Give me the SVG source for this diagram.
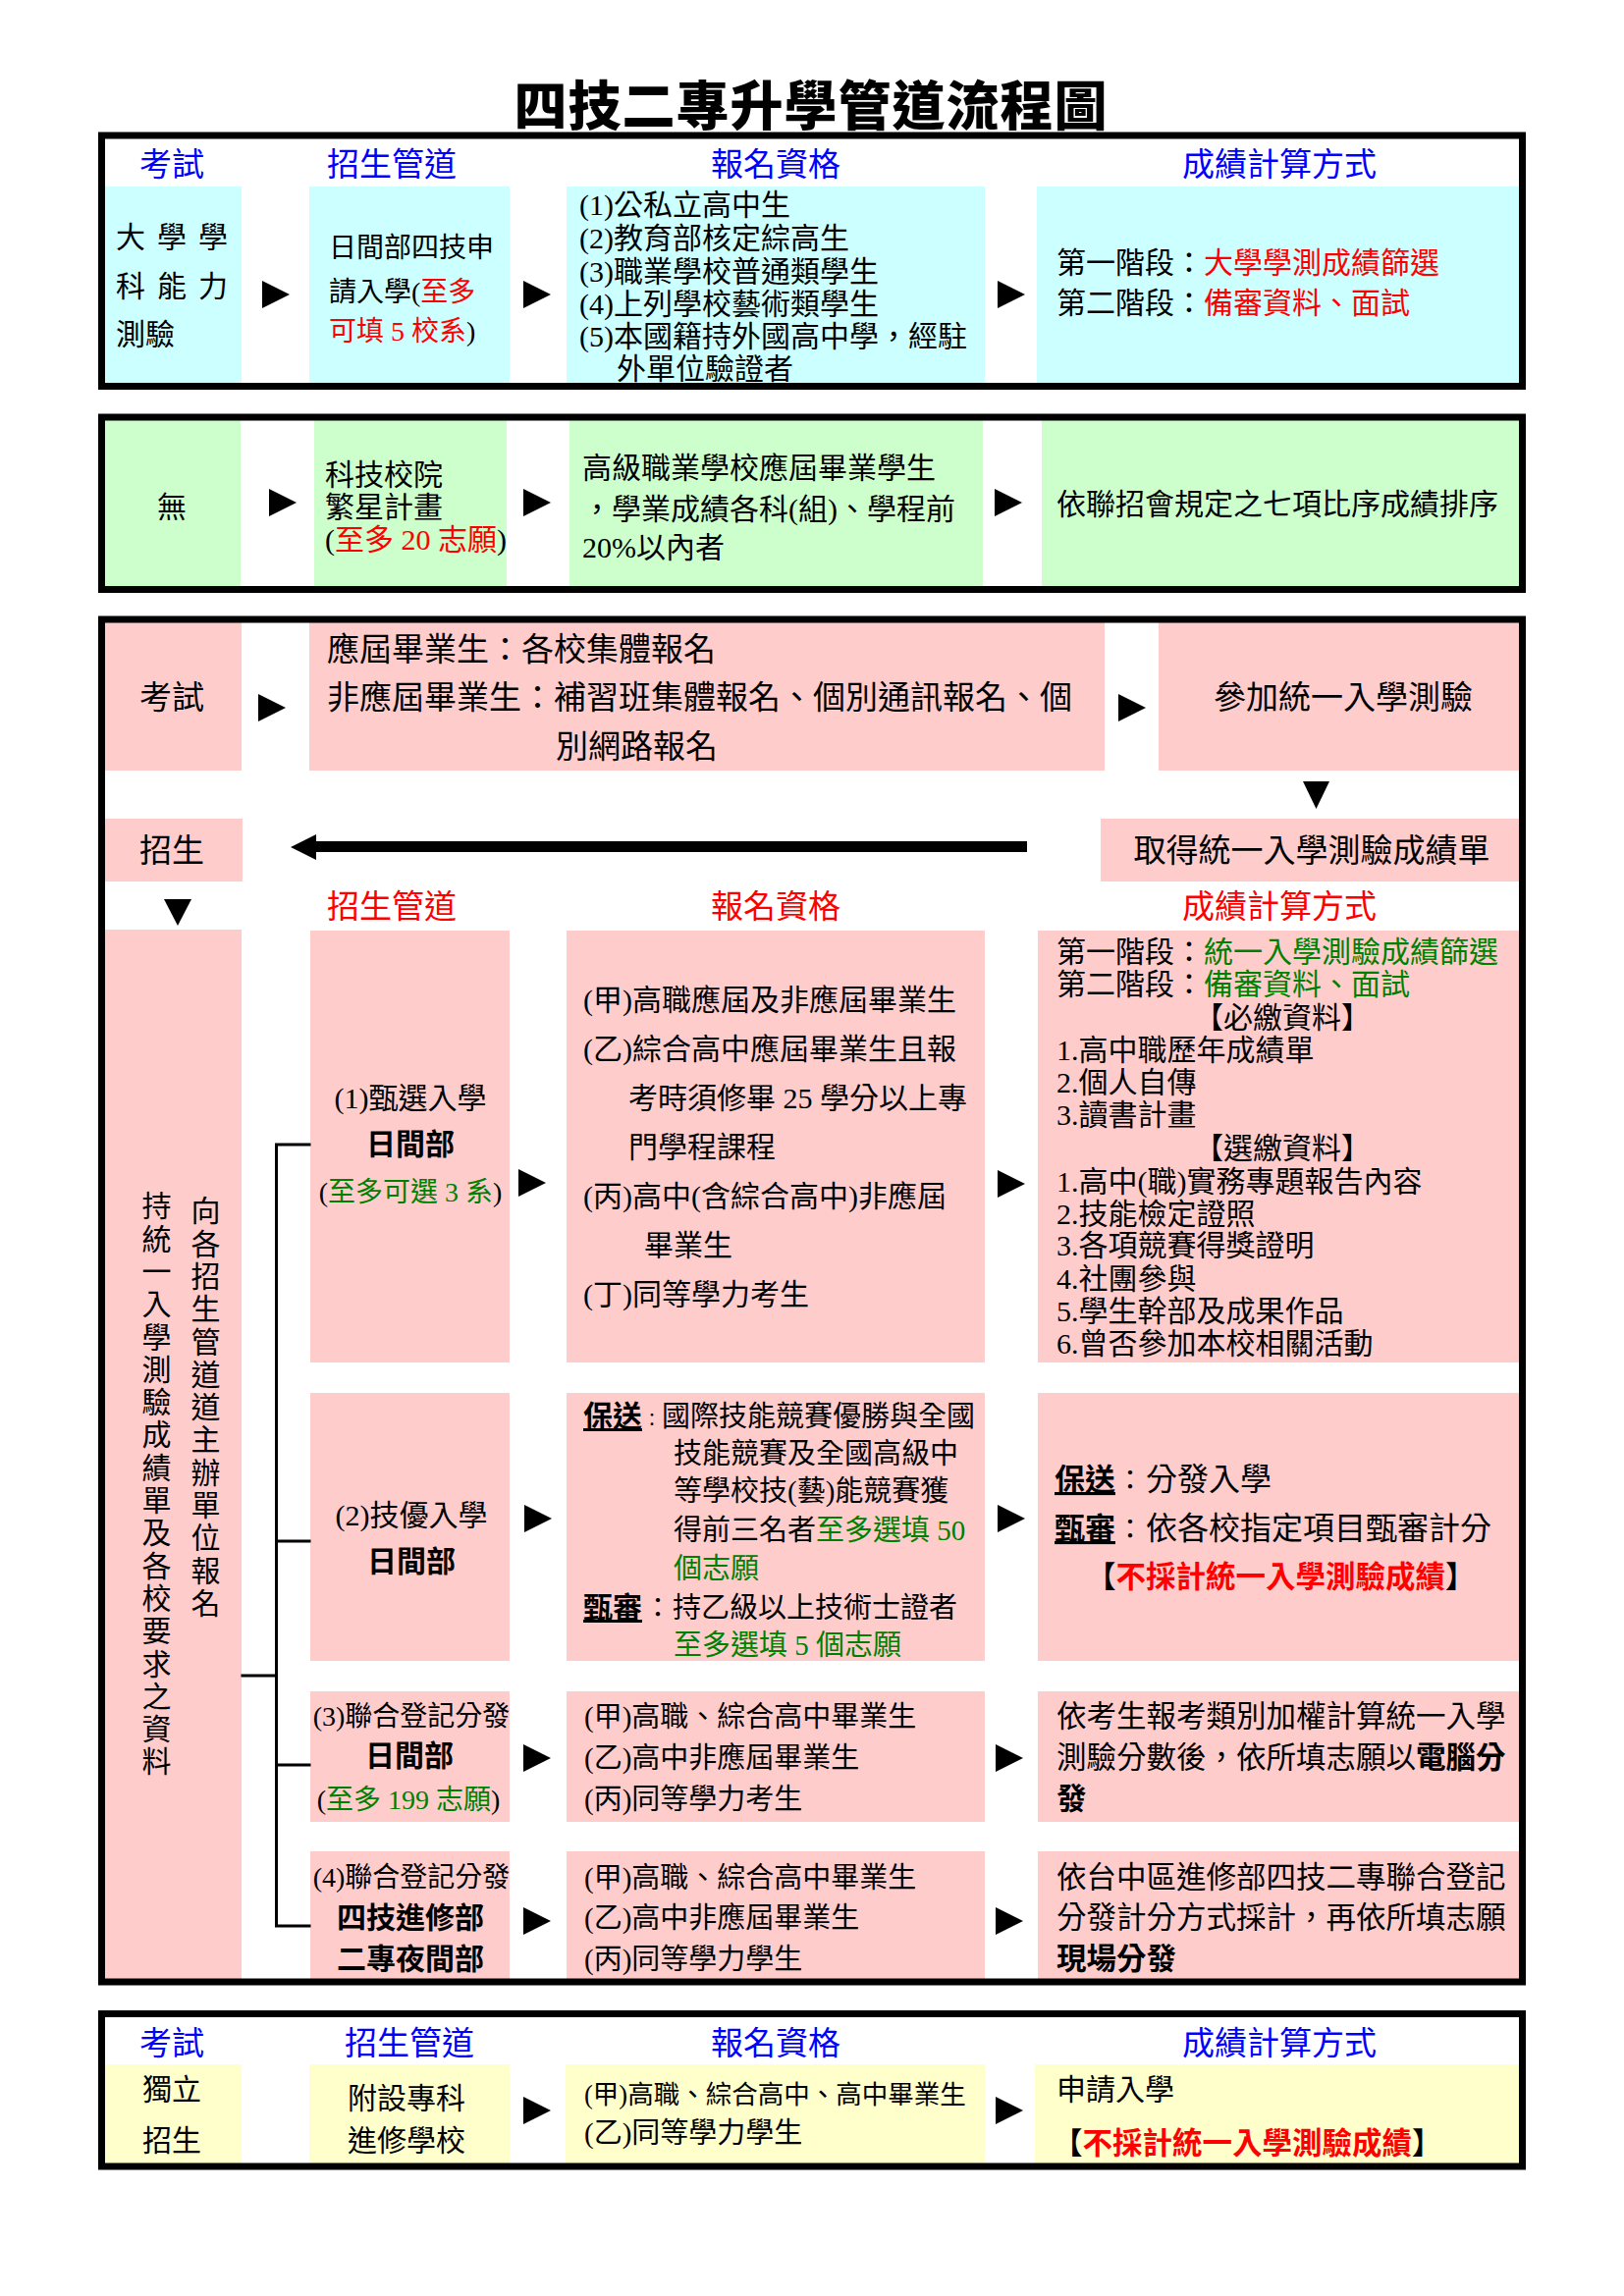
<svg xmlns="http://www.w3.org/2000/svg" width="1654" height="2339" viewBox="0 0 1654 2339">
<style>
text{font-family:"Liberation Serif","Noto Sans CJK TC",serif;font-size:30px;fill:#000}
.b{font-weight:bold}
.r{fill:#f00}
.g{fill:#008000}
.k{fill:#000}
.blu{fill:#00f;font-size:33px;text-anchor:middle}
.rh{fill:#f00;font-size:33px;text-anchor:middle}
.f33{font-size:33px}
.f28{font-size:28px}
.f29{font-size:29px}
.m{text-anchor:middle}
.u{text-decoration:underline}
.cy{fill:#cff}.gr{fill:#cfc}.pk{fill:#fcc}.yl{fill:#ffc}
.frame{fill:none;stroke:#000;stroke-width:7}
.ln{fill:none;stroke:#000;stroke-width:3;stroke-linecap:square}
.vt{writing-mode:vertical-rl;letter-spacing:3.3px}
</style>
<defs>
<path id="ar" d="M0,-14L28,0L0,14Z"/>
</defs>
<rect x="0" y="0" width="1654" height="2339" fill="#fff"/>

<g id="title">
<text x="826" y="128" class="m b" style="font-size:54px;letter-spacing:1px;font-weight:900">四技二專升學管道流程圖</text>
</g>

<!-- Section 1 -->
<g id="s1">
<g id="s1-exam"><rect class="cy" x="107" y="190" width="139" height="200"/>
<text x="118" y="252" style="letter-spacing:12px">大學學</text>
<text x="118" y="302" style="letter-spacing:12px">科能力</text>
<text x="118" y="351">測驗</text></g>
<g id="s1-channel"><rect class="cy" x="315" y="190" width="204" height="200"/>
<text x="335" y="262" class="f28">日間部四技申</text>
<text x="335" y="307" class="f28">請入學(<tspan class="r">至多</tspan></text>
<text x="335" y="347" class="f28"><tspan class="r">可填 5 校系</tspan>)</text></g>
<g id="s1-qual"><rect class="cy" x="577" y="190" width="426" height="200"/>
<text x="590" y="219">(1)公私立高中生</text>
<text x="590" y="253">(2)教育部核定綜高生</text>
<text x="590" y="287">(3)職業學校普通類學生</text>
<text x="590" y="320">(4)上列學校藝術類學生</text>
<text x="590" y="353">(5)本國籍持外國高中學，經駐</text>
<text x="628" y="386">外單位驗證者</text></g>
<g id="s1-score"><rect class="cy" x="1056" y="190" width="491" height="200"/>
<text x="1076" y="278">第一階段：<tspan class="r">大學學測成績篩選</tspan></text>
<text x="1076" y="319">第二階段：<tspan class="r">備審資料、面試</tspan></text></g>
<g id="s1-headers">
<text class="blu" x="175" y="179">考試</text>
<text class="blu" x="399" y="179">招生管道</text>
<text class="blu" x="790" y="179">報名資格</text>
<text class="blu" x="1303" y="179">成績計算方式</text>
</g>
<rect class="frame" x="103.5" y="138" width="1447" height="255.5"/>
</g>

<!-- Section 2 -->
<g id="s2">
<g id="s2-exam"><rect class="gr" x="107" y="428" width="138" height="169"/>
<text x="175" y="527" class="m">無</text></g>
<g id="s2-channel"><rect class="gr" x="320" y="428" width="196" height="169"/>
<text x="331" y="494">科技校院</text>
<text x="331" y="527">繁星計畫</text>
<text x="331" y="560">(<tspan class="r">至多 20 志願</tspan>)</text></g>
<g id="s2-qual"><rect class="gr" x="580" y="428" width="421" height="169"/>
<text x="593" y="487">高級職業學校應屆畢業學生</text>
<text x="593" y="529">，學業成績各科(組)、學程前</text>
<text x="593" y="568">20%以內者</text></g>
<g id="s2-score"><rect class="gr" x="1061" y="428" width="486" height="169"/>
<text x="1076" y="524">依聯招會規定之七項比序成績排序</text></g>
<rect class="frame" x="103.5" y="425" width="1447" height="175.5"/>
</g>

<!-- Section 3 -->
<g id="s3">
<g id="s3-exam"><rect class="pk" x="107" y="634" width="139" height="151"/>
<text x="175" y="722" class="m f33">考試</text></g>
<g id="s3-register"><rect class="pk" x="315" y="634" width="810" height="151"/>
<text x="333" y="673" class="f33">應屆畢業生：各校集體報名</text>
<text x="333" y="722" class="f33">非應屆畢業生：補習班集體報名、個別通訊報名、個</text>
<text x="566" y="772" class="f33">別網路報名</text></g>
<g id="s3-test"><rect class="pk" x="1180" y="634" width="367" height="151"/>
<text x="1368" y="722" class="m f33">參加統一入學測驗</text></g>
<g id="s3-result"><rect class="pk" x="1121" y="834" width="426" height="64"/>
<text x="1336" y="878" class="m f33">取得統一入學測驗成績單</text></g>
<g id="s3-enroll"><rect class="pk" x="107" y="834" width="140" height="64"/>
<text x="175" y="878" class="m f33">招生</text></g>
<g id="s3-headers">
<text class="rh" x="399" y="935">招生管道</text>
<text class="rh" x="790" y="935">報名資格</text>
<text class="rh" x="1303" y="935">成績計算方式</text>
</g>
<g id="s3-apply"><rect class="pk" x="107" y="947" width="139" height="1069"/>
<text class="vt" x="207" y="1218">向各招生管道道主辦單位報名</text>
<text class="vt" x="157" y="1213">持統一入學測驗成績單及各校要求之資料</text></g>

<g id="r1-channel"><rect class="pk" x="316" y="948" width="203" height="440"/>
<text x="418" y="1129" class="m">(1)甄選入學</text>
<text x="418" y="1176" class="m b">日間部</text>
<text x="418" y="1224" class="m f28">(<tspan class="g">至多可選 3 系</tspan>)</text></g>
<g id="r1-qual"><rect class="pk" x="577" y="948" width="426" height="440"/>
<text x="594" y="1029">(甲)高職應屆及非應屆畢業生</text>
<text x="594" y="1079">(乙)綜合高中應屆畢業生且報</text>
<text x="640" y="1129">考時須修畢 25 學分以上專</text>
<text x="640" y="1179">門學程課程</text>
<text x="594" y="1229">(丙)高中(含綜合高中)非應屆</text>
<text x="656" y="1279">畢業生</text>
<text x="594" y="1329">(丁)同等學力考生</text></g>
<g id="r1-score"><rect class="pk" x="1057" y="948" width="490" height="440"/>
<text x="1076" y="980">第一階段：<tspan class="g">統一入學測驗成績篩選</tspan></text>
<text x="1076" y="1013">第二階段：<tspan class="g">備審資料、面試</tspan></text>
<text x="1216" y="1047">【必繳資料】</text>
<text x="1076" y="1080">1.高中職歷年成績單</text>
<text x="1076" y="1113">2.個人自傳</text>
<text x="1076" y="1146">3.讀書計畫</text>
<text x="1216" y="1180">【選繳資料】</text>
<text x="1076" y="1214">1.高中(職)實務專題報告內容</text>
<text x="1076" y="1247">2.技能檢定證照</text>
<text x="1076" y="1279">3.各項競賽得獎證明</text>
<text x="1076" y="1313">4.社團參與</text>
<text x="1076" y="1346">5.學生幹部及成果作品</text>
<text x="1076" y="1379">6.曾否參加本校相關活動</text></g>

<g id="r2-channel"><rect class="pk" x="316" y="1419" width="203" height="273"/>
<text x="419" y="1554" class="m">(2)技優入學</text>
<text x="419" y="1601" class="m b">日間部</text></g>
<g id="r2-qual"><rect class="pk" x="577" y="1419" width="426" height="273"/>
<text x="594" y="1453" class="f29"><tspan class="b u" style="font-size:30px">保送</tspan><tspan x="655" style="font-size:18px">：</tspan><tspan x="674">國際技能競賽優勝與全國</tspan></text>
<text x="686" y="1491" class="f29">技能競賽及全國高級中</text>
<text x="686" y="1529" class="f29">等學校技(藝)能競賽獲</text>
<text x="686" y="1569" class="f29">得前三名者<tspan class="g">至多選填 50</tspan></text>
<text x="686" y="1608" class="f29 g">個志願</text>
<text x="594" y="1648" class="f29"><tspan class="b u" style="font-size:30px">甄審</tspan><tspan x="656" style="font-size:28px">：</tspan><tspan x="685">持乙級以上技術士證者</tspan></text>
<text x="686" y="1686" class="f29 g">至多選填 5 個志願</text></g>
<g id="r2-score"><rect class="pk" x="1057" y="1419" width="490" height="273"/>
<text x="1074" y="1518" style="font-size:32px"><tspan class="b u" style="font-size:31px">保送</tspan><tspan x="1137" style="font-size:28px">：</tspan><tspan x="1167">分發入學</tspan></text>
<text x="1074" y="1568" style="font-size:32px"><tspan class="b u" style="font-size:31px">甄審</tspan><tspan x="1137" style="font-size:28px">：</tspan><tspan x="1167">依各校指定項目甄審計分</tspan></text>
<text x="1106" y="1617" class="b" style="font-size:30.5px">【<tspan class="r">不採計統一入學測驗成績</tspan>】</text></g>

<g id="r3-channel"><rect class="pk" x="316" y="1723" width="203" height="133"/>
<text x="419" y="1758" class="m f28">(3)聯合登記分發</text>
<text x="417" y="1799" class="m b">日間部</text>
<text x="416" y="1843" class="m f28">(<tspan class="g">至多 199 志願</tspan>)</text></g>
<g id="r3-qual"><rect class="pk" x="577" y="1723" width="426" height="133"/>
<text x="595" y="1759" class="f29">(甲)高職、綜合高中畢業生</text>
<text x="595" y="1801" class="f29">(乙)高中非應屆畢業生</text>
<text x="595" y="1843" class="f29">(丙)同等學力考生</text></g>
<g id="r3-score"><rect class="pk" x="1057" y="1723" width="490" height="133"/>
<text x="1076" y="1759" style="font-size:30.5px">依考生報考類別加權計算統一入學</text>
<text x="1076" y="1801" style="font-size:30.5px">測驗分數後，依所填志願以<tspan class="b">電腦分</tspan></text>
<text x="1076" y="1843" class="b" style="font-size:30.5px">發</text></g>

<g id="r4-channel"><rect class="pk" x="316" y="1886" width="203" height="130"/>
<text x="419" y="1922" class="m f28">(4)聯合登記分發</text>
<text x="418" y="1964" class="m b">四技進修部</text>
<text x="418" y="2006" class="m b">二專夜間部</text></g>
<g id="r4-qual"><rect class="pk" x="577" y="1886" width="426" height="130"/>
<text x="595" y="1923" class="f29">(甲)高職、綜合高中畢業生</text>
<text x="595" y="1964" class="f29">(乙)高中非應屆畢業生</text>
<text x="595" y="2006" class="f29">(丙)同等學力學生</text></g>
<g id="r4-score"><rect class="pk" x="1057" y="1886" width="490" height="130"/>
<text x="1076" y="1923" style="font-size:30.5px">依台中區進修部四技二專聯合登記</text>
<text x="1076" y="1964" style="font-size:30.5px">分發計分方式採計，再依所填志願</text>
<text x="1076" y="2006" class="b" style="font-size:30.5px">現場分發</text></g>
<rect class="frame" x="103.5" y="631" width="1447" height="1388"/>
</g>

<!-- Section 4 -->
<g id="s4">
<g id="s4-headers">
<text class="blu" x="175" y="2093">考試</text>
<text class="blu" x="417" y="2093">招生管道</text>
<text class="blu" x="790" y="2093">報名資格</text>
<text class="blu" x="1303" y="2093">成績計算方式</text>
</g>
<g id="s4-exam"><rect class="yl" x="107" y="2103" width="139" height="101"/>
<text x="175" y="2139" class="m">獨立</text>
<text x="175" y="2191" class="m">招生</text></g>
<g id="s4-channel"><rect class="yl" x="315" y="2103" width="204" height="101"/>
<text x="414" y="2148" class="m">附設專科</text>
<text x="414" y="2191" class="m">進修學校</text></g>
<g id="s4-qual"><rect class="yl" x="576" y="2103" width="427" height="101"/>
<text x="595" y="2143" style="font-size:26.5px">(甲)高職、綜合高中、高中畢業生</text>
<text x="595" y="2183" class="f29">(乙)同等學力學生</text></g>
<g id="s4-score"><rect class="yl" x="1054" y="2103" width="493" height="101"/>
<text x="1076" y="2139">申請入學</text>
<text x="1072" y="2194" class="b" style="font-size:30.5px">【<tspan class="r">不採計統一入學測驗成績</tspan>】</text></g>
<rect class="frame" x="103.5" y="2051.5" width="1447" height="155.5"/>
</g>

<!-- Connectors -->
<g id="connectors">
<use href="#ar" x="267" y="300"/>
<use href="#ar" x="533" y="300"/>
<use href="#ar" x="1016" y="300"/>
<use href="#ar" x="274" y="512"/>
<use href="#ar" x="533" y="512"/>
<use href="#ar" x="1013" y="512"/>
<use href="#ar" x="263" y="721"/>
<use href="#ar" x="1139" y="721"/>
<path d="M1327,796L1354,796L1340.5,824Z"/>
<path d="M1046,857L322,857L322,850L296,863L322,876L322,868L1046,868Z"/>
<path d="M167,916L195,916L181,943Z"/>
<use href="#ar" x="528" y="1205"/>
<use href="#ar" x="1016" y="1206"/>
<use href="#ar" x="534" y="1547"/>
<use href="#ar" x="1016" y="1547"/>
<use href="#ar" x="533" y="1791"/>
<use href="#ar" x="1014" y="1791"/>
<use href="#ar" x="533" y="1957"/>
<use href="#ar" x="1014" y="1957"/>
<use href="#ar" x="533" y="2150"/>
<use href="#ar" x="1014" y="2150"/>
<path class="ln" d="M247,1707H281.5M281.5,1166V1962M281.5,1166H315M281.5,1570H315M281.5,1798H315M281.5,1962H315"/>
</g>
</svg>
